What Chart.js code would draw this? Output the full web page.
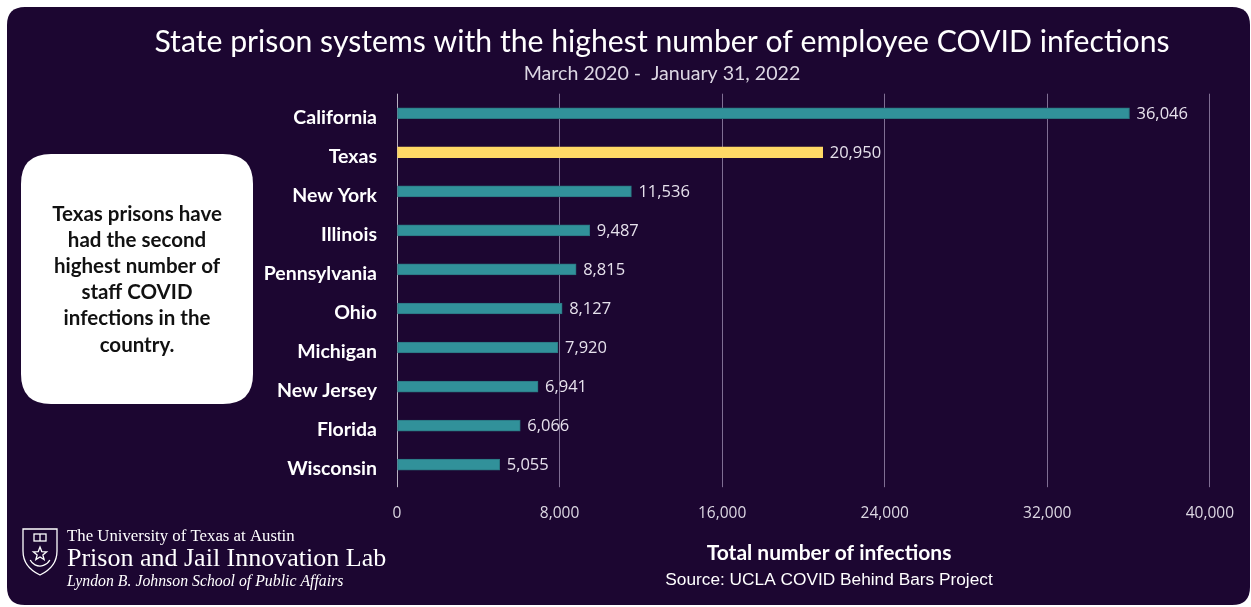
<!DOCTYPE html>
<html>
<head>
<meta charset="utf-8">
<title>Employee COVID infections in state prisons</title>
<script src="https://cdn.jsdelivr.net/npm/chart.js@4.4.1/dist/chart.umd.min.js"></script>
<style>
  html, body { margin: 0; padding: 0; background: #ffffff; }
  #wrap { width: 1251px; height: 607px; position: relative; }
</style>
</head>
<body>
<div id="wrap"><canvas id="staff-covid" width="1251" height="607"></canvas></div>
<script>
const states = ["California", "Texas", "New York", "Illinois", "Pennsylvania", "Ohio", "Michigan", "New Jersey", "Florida", "Wisconsin"];
const infections = [36046, 20950, 11536, 9487, 8815, 8127, 7920, 6941, 6066, 5055];
const highlightState = "Texas";
const xTicks = [0, 8000, 16000, 24000, 32000, 40000];

const titleText = "State prison systems with the highest number of employee COVID infections";
const subtitleText = "March 2020 -  January 31, 2022";
const noteLines = ["Texas prisons have", "had the second", "highest number of", "staff COVID", "infections in the", "country."];
const axisTitle = "Total number of infections";
const sourceText = "Source: UCLA COVID Behind Bars Project";

const PANEL = "#1c0631";
const TEAL = "#31919a";
const GOLD = "#ffd966";

function roundRect(ctx, x, y, w, h, r) {
  ctx.beginPath();
  ctx.moveTo(x + r, y);
  ctx.lineTo(x + w - r, y);
  ctx.quadraticCurveTo(x + w, y, x + w, y + r);
  ctx.lineTo(x + w, y + h - r);
  ctx.quadraticCurveTo(x + w, y + h, x + w - r, y + h);
  ctx.lineTo(x + r, y + h);
  ctx.quadraticCurveTo(x, y + h, x, y + h - r);
  ctx.lineTo(x, y + r);
  ctx.quadraticCurveTo(x, y, x + r, y);
  ctx.closePath();
}

// dark rounded panel behind everything
const panelPlugin = {
  id: "panel",
  beforeDraw(chart) {
    const ctx = chart.ctx;
    ctx.save();
    ctx.fillStyle = "#ffffff";
    ctx.fillRect(0, 0, chart.width, chart.height);
    ctx.fillStyle = PANEL;
    roundRect(ctx, 7, 7, 1243, 598, 18);
    ctx.fill();
    ctx.restore();
  }
};

// value labels at the end of each bar
const valueLabels = {
  id: "valueLabels",
  afterDatasetsDraw(chart) {
    const ctx = chart.ctx;
    const meta = chart.getDatasetMeta(0);
    ctx.save();
    ctx.font = "16.5px 'Open Sans', sans-serif";
    ctx.fillStyle = "#e6e1ec";
    ctx.textAlign = "left";
    ctx.textBaseline = "middle";
    meta.data.forEach((bar, i) => {
      ctx.fillText(infections[i].toLocaleString("en-US"), bar.x + 7, bar.y + 1);
    });
    ctx.restore();
  }
};

function drawShield(ctx, x, y) {
  ctx.save();
  ctx.strokeStyle = "#ffffff";
  ctx.lineWidth = 1.3;
  ctx.beginPath();
  ctx.moveTo(x, y);
  ctx.lineTo(x + 34, y);
  ctx.lineTo(x + 34, y + 22);
  ctx.quadraticCurveTo(x + 34, y + 38, x + 17, y + 46);
  ctx.quadraticCurveTo(x, y + 38, x, y + 22);
  ctx.closePath();
  ctx.stroke();
  ctx.strokeRect(x + 11, y + 5, 12, 7);
  ctx.beginPath();
  ctx.moveTo(x + 17, y + 5);
  ctx.lineTo(x + 17, y + 12);
  ctx.stroke();
  // star
  const cx = x + 17, cy = y + 25, R = 7, r = 3;
  ctx.beginPath();
  for (let k = 0; k < 10; k++) {
    const a = -Math.PI / 2 + k * Math.PI / 5;
    const rr = k % 2 === 0 ? R : r;
    ctx.lineTo(cx + rr * Math.cos(a), cy + rr * Math.sin(a));
  }
  ctx.closePath();
  ctx.stroke();
  // laurel
  ctx.beginPath();
  ctx.arc(cx, cy + 1, 11, Math.PI * 0.15, Math.PI * 0.85);
  ctx.stroke();
  ctx.restore();
}

// titles, side note, footer
const decorations = {
  id: "decorations",
  afterDraw(chart) {
    const ctx = chart.ctx;
    ctx.save();
    ctx.textAlign = "center";
    ctx.textBaseline = "middle";

    ctx.fillStyle = "#ffffff";
    ctx.font = "30.2px Lato, sans-serif";
    ctx.fillText(titleText, 662, 42);
    ctx.fillStyle = "#dcd7e3";
    ctx.font = "19.6px Lato, sans-serif";
    ctx.fillText(subtitleText, 662, 74);

    // white note box
    ctx.fillStyle = "#ffffff";
    roundRect(ctx, 21, 154, 232, 250, 30);
    ctx.fill();
    ctx.fillStyle = "#111111";
    ctx.font = "bold 20.5px Lato, sans-serif";
    noteLines.forEach((line, i) => ctx.fillText(line, 137, 214 + i * 26.2));

    // axis title and source
    ctx.fillStyle = "#ffffff";
    ctx.font = "bold 21px Lato, sans-serif";
    ctx.fillText(axisTitle, 829, 553);
    ctx.font = "17.3px 'Liberation Sans', Arial, sans-serif";
    ctx.fillText(sourceText, 829, 580);

    // lab logo
    drawShield(ctx, 23, 529);
    ctx.textAlign = "left";
    ctx.font = "16.8px 'Liberation Serif', serif";
    ctx.fillText("The University of Texas at Austin", 67, 537);
    ctx.font = "26px 'Liberation Serif', serif";
    ctx.fillText("Prison and Jail Innovation Lab", 67, 559);
    ctx.font = "italic 15.8px 'Liberation Serif', serif";
    ctx.fillText("Lyndon B. Johnson School of Public Affairs", 67, 582);
    ctx.restore();
  }
};

const ctx = document.getElementById("staff-covid").getContext("2d");

new Chart(ctx, {
  type: "bar",
  data: {
    labels: states,
    datasets: [{
      data: infections,
      backgroundColor: states.map(s => s === highlightState ? GOLD : TEAL),
      borderColor: states.map(s => s === highlightState ? GOLD : "#2a7580"),
      borderWidth: 1,
      borderSkipped: false,
      barThickness: 11
    }]
  },
  options: {
    indexAxis: "y",
    responsive: false,
    animation: false,
    devicePixelRatio: 1,
    layout: { padding: { top: 93.7, right: 41, bottom: 82.8, left: 0 } },
    plugins: {
      legend: { display: false },
      tooltip: { enabled: false }
    },
    scales: {
      x: {
        min: 0,
        max: 40000,
        afterBuildTicks(scale) {
          scale.ticks = xTicks.map(v => ({ value: v }));
        },
        afterFit(scale) { scale.height = 40; },
        border: { display: false },
        grid: {
          color: c => c.index === 0 ? "#b9b1c2" : "rgba(170,155,190,0.7)",
          lineWidth: 1,
          tickLength: 3
        },
        ticks: {
          color: "#ddd8e3",
          padding: 17,
          font: { family: "'Open Sans', sans-serif", size: 15.5 },
          callback: v => v.toLocaleString("en-US")
        }
      },
      y: {
        afterFit(scale) { scale.width = 397; },
        border: { display: false },
        grid: { display: false, drawTicks: false },
        ticks: {
          color: "#ffffff",
          padding: 20,
          labelOffset: 4.5,
          font: { family: "Lato, sans-serif", size: 19.5, weight: "bold" }
        }
      }
    }
  },
  plugins: [panelPlugin, valueLabels, decorations]
});
</script>
</body>
</html>
